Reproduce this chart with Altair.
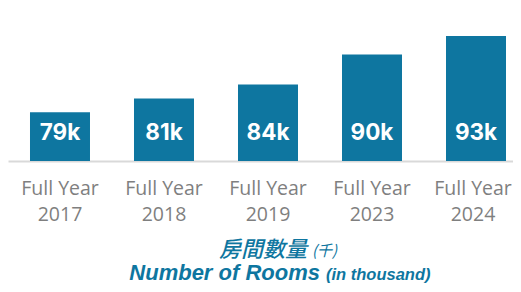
import altair as alt
import pandas as pd

years = ["2017", "2018", "2019", "2023", "2024"]
rooms = [79.0, 81.5, 84.1, 89.6, 93.0]
labels = ["79k", "81k", "84k", "90k", "93k"]

df = pd.DataFrame({"year": years, "rooms": rooms, "label": labels})
one = pd.DataFrame({"k": [0]})

BLUE = "#0E76A0"
W, H = 505, 153

x = alt.X("year:N", sort=years, title=None,
          scale=alt.Scale(paddingInner=0.4231, paddingOuter=0.1394, align=0.7586),
          axis=alt.Axis(labelExpr="['Full Year', datum.value]", labelAngle=0,
                        labelFont="Open Sans", labelFontSize=19.5, labelColor="#7f7f7f",
                        labelLineHeight=26.5, labelPadding=18, ticks=False,
                        labelOffset={"condition": {"test": "datum.value === '2024'", "value": -3},
                                     "value": 0},
                        domainColor="#d9d9d9", domainWidth=2, grid=False))
y = alt.Y("rooms:Q", title=None, axis=None,
          scale=alt.Scale(domain=[70, 98.18], zero=False, nice=False))

bars = alt.Chart(df).mark_bar(color=BLUE).encode(x=x, y=y, y2=alt.datum(70))

text = alt.Chart(df).mark_text(color="white", font="Inter", fontSize=22.5,
                               fontWeight="bold", baseline="middle").encode(
    x=alt.X("year:N", sort=years), y=alt.value(125), text="label:N")

t1 = alt.Chart(one).mark_text(color=BLUE, font="Noto Sans CJK TC", fontSize=22,
                              fontStyle="italic", fontWeight=500, align="right",
                              baseline="alphabetic").encode(
    x=alt.value(299), y=alt.value(249), text=alt.value("房間數量"))
t1b = alt.Chart(one).mark_text(color=BLUE, font="Noto Sans CJK TC", fontSize=15,
                               fontStyle="italic", align="left",
                               baseline="alphabetic").encode(
    x=alt.value(304), y=alt.value(248), text=alt.value("(千)"))
t2 = alt.Chart(one).mark_text(color=BLUE, font="Liberation Sans", fontSize=22,
                              fontStyle="italic", fontWeight="bold", align="right",
                              baseline="alphabetic").encode(
    x=alt.value(312), y=alt.value(272), text=alt.value("Number of Rooms"))
t2b = alt.Chart(one).mark_text(color=BLUE, font="Liberation Sans", fontSize=16.5,
                               fontStyle="italic", fontWeight="bold", align="left",
                               baseline="alphabetic").encode(
    x=alt.value(318), y=alt.value(272), text=alt.value("(in thousand)"))

chart = alt.layer(bars, text, t1, t1b, t2, t2b).properties(
    width=W, height=H,
    autosize=alt.AutoSizeParams(type="none"),
    padding={"left": 0, "top": 0, "right": 0, "bottom": 276 - H},
).configure_view(stroke=None)

chart.save("out.html", embed_options={"renderer": "svg", "actions": False})
